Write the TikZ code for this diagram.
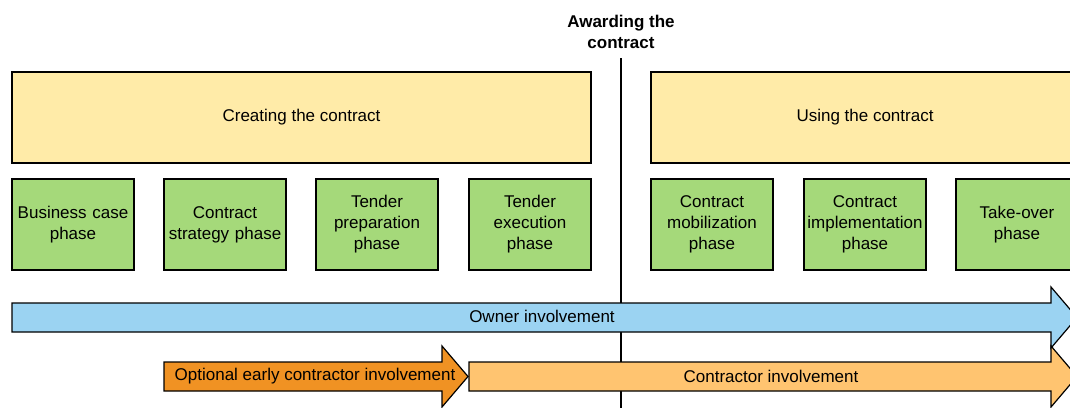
\documentclass[tikz,border=0pt]{standalone}
\usepackage{fontspec}
\setmainfont{Liberation Sans}
\definecolor{ylw}{RGB}{255,235,168}
\definecolor{grn}{RGB}{165,217,122}
\definecolor{blu}{RGB}{155,211,242}
\definecolor{dorg}{RGB}{240,146,35}
\definecolor{lorg}{RGB}{255,196,112}
\begin{document}
\begin{tikzpicture}[x=1pt,y=-1pt,
  every node/.style={font=\fontsize{17}{21}\selectfont, align=center, inner sep=0pt},
  bigbox/.style={draw=black, line width=1.2pt, fill=ylw},
  phasebox/.style={draw=black, line width=1.2pt, fill=grn, minimum width=122pt, minimum height=91pt, text width=120pt},
  arr/.style={draw=black, line width=1.2pt, line join=miter},
  vline/.style={draw=black, line width=1.2pt}]
\useasboundingbox (0,0) rectangle (1070,407);
\clip (0,0) rectangle (1070,407);
% awarding label and divider
\node[font=\bfseries\fontsize{17}{21}\selectfont] (award) at (621,31.5) {Awarding the\\contract};
\coordinate (vtop) at (621,58);
\coordinate (vbot) at (621,410);
\draw[vline] (vtop) -- (vbot);
% big boxes
\draw[bigbox] (12,72) rectangle (591,163);
\node (create) at (301.5,117) {Creating the contract};
\draw[bigbox] (651,72) rectangle (1079,163);
\node (use) at (865,117) {Using the contract};
% phase boxes
\node[phasebox] (p1) at (73,224.5) {Business case\\phase};
\node[phasebox] (p2) at (225,224.5) {Contract\\strategy phase};
\node[phasebox] (p3) at (377,224.5) {Tender\\preparation\\phase};
\node[phasebox] (p4) at (530,224.5) {Tender\\execution\\phase};
\node[phasebox] (p5) at (712,224.5) {Contract\\mobilization\\phase};
\node[phasebox] (p6) at (865,224.5) {Contract\\implementation\\phase};
\node[phasebox] (p7) at (1017,224.5) {Take-over\\phase};
% owner arrow
\draw[arr, fill=blu] (12,303) -- (1051,303) -- (1051,287) -- (1077,317.5) -- (1051,348) -- (1051,332) -- (12,332) -- cycle;
\node (owner) at (542,316) {Owner involvement};
% optional early
\draw[arr, fill=dorg] (164,362) -- (442,362) -- (442,346) -- (468,376.5) -- (442,407) -- (442,391) -- (164,391) -- cycle;
\node (early) at (315,376.5) {Optional early contractor involvement};
% contractor
\draw[arr, fill=lorg] (469,362) -- (1051,362) -- (1051,346) -- (1077,376.5) -- (1051,407) -- (1051,391) -- (469,391) -- cycle;
\node (contr) at (771,376) {Contractor involvement};
\end{tikzpicture}
\end{document}
